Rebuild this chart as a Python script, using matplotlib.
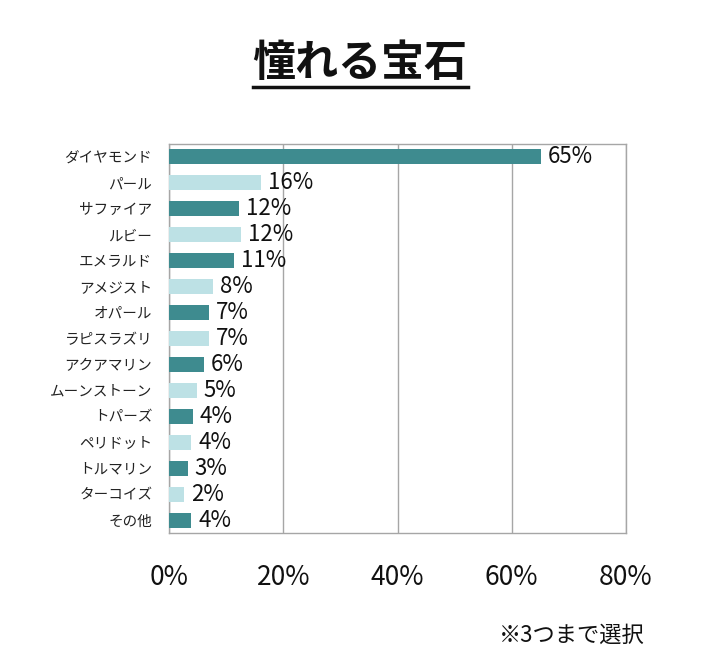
import matplotlib
matplotlib.use("Agg")
import matplotlib.pyplot as plt
from matplotlib.lines import Line2D

plt.rcParams['font.family'] = ['Noto Sans CJK JP', 'DejaVu Sans']

categories = ["ダイヤモンド", "パール", "サファイア", "ルビー", "エメラルド", "アメジスト",
              "オパール", "ラピスラズリ", "アクアマリン", "ムーンストーン", "トパーズ",
              "ペリドット", "トルマリン", "ターコイズ", "その他"]
values = [65.1, 16.1, 12.3, 12.6, 11.4, 7.7, 7.0, 7.0, 6.1, 4.9, 4.2, 3.9, 3.3, 2.6, 3.9]
value_labels = ["65%", "16%", "12%", "12%", "11%", "8%", "7%", "7%", "6%", "5%",
                "4%", "4%", "3%", "2%", "4%"]
x_ticks = [0, 20, 40, 60, 80]
x_ticklabels = ["0%", "20%", "40%", "60%", "80%"]

dark = "#3E8B8F"
light = "#BDE1E5"
colors = [dark if i % 2 == 0 else light for i in range(len(categories))]

fig = plt.figure(figsize=(7.2, 6.61), dpi=100)
ax = fig.add_axes([169/720, 128/661, 457/720, 389/661])

ypos = list(range(len(categories)))
ax.barh(ypos, values, height=0.58, color=colors, zorder=3)
ax.set_ylim(len(categories) - 0.5, -0.5)
ax.set_xlim(0, 80)
ax.set_yticks(ypos)
ax.set_yticklabels(categories, fontsize=10.5, color="#222222")
ax.set_xticks(x_ticks)
ax.set_xticklabels(x_ticklabels, fontsize=19, color="#111111")
ax.tick_params(axis='y', length=0, pad=12)
ax.tick_params(axis='x', length=0, pad=22)
ax.grid(axis='x', color="#A6A6A6", linewidth=1, zorder=0)
for s in ax.spines.values():
    s.set_color("#A6A6A6")
    s.set_linewidth(1)

for y, v, lab in zip(ypos, values, value_labels):
    ax.annotate(lab, xy=(v, y), xytext=(5, 0), textcoords="offset points",
                va="center", ha="left", fontsize=16, color="#111111", zorder=4)

t = fig.text(0.5, 1 - 63/661, "憧れる宝石", ha="center", va="center",
             fontsize=31, fontweight="bold", color="#111111")
fig.canvas.draw()
bb = t.get_window_extent().transformed(fig.transFigure.inverted())
uy = 1 - 87/661
fig.add_artist(Line2D([bb.x0, bb.x1], [uy, uy], color="#111111", linewidth=2.5,
                      transform=fig.transFigure))

fig.text(645/720, 1 - 635/661, "※3つまで選択", ha="right", va="center",
         fontsize=16, color="#111111")

fig.savefig("out.png", dpi=100, facecolor="white")
